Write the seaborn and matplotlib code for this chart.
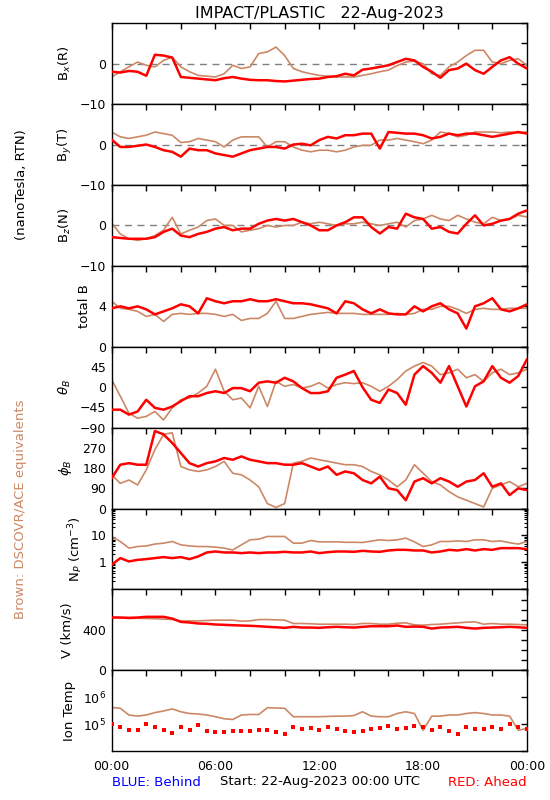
import numpy as np
import seaborn as sns
import matplotlib.pyplot as plt
from matplotlib.ticker import FixedLocator, FixedFormatter, LogLocator, NullLocator, NullFormatter

# time axis (hours after 22-Aug-2023 00:00 UTC), 30 min steps
hours = np.arange(0, 24.5, 0.5)

# magnetic field components (nT, RTN) - red: STEREO-A, brown: DSCOVR/ACE
bx_red = [-2.0, -2.2, -1.8, -2.0, -3.0, 2.2, 2.0, 1.5, -3.3, -3.5,
          -3.7, -3.9, -4.1, -3.6, -3.3, -3.7, -4.0, -4.1, -4.1, -4.3,
          -4.4, -4.2, -4.0, -3.8, -3.7, -3.3, -3.1, -2.5, -2.9, -1.5,
          -1.2, -0.8, -0.4, 0.4, 1.2, 0.8, -0.8, -2.0, -3.5, -1.6,
          -1.2, 0.0, -1.6, -2.5, -0.8, 0.8, 1.6, 0.0, -1.2]
bx_brown = [-3.3, -2.0, -0.8, 0.4, -0.4, -0.8, 0.8, 1.6, -0.8, -2.0,
            -2.9, -3.1, -3.3, -2.5, -0.4, -1.2, -0.8, 2.5, 2.9, 4.1,
            2.0, -1.2, -2.0, -2.5, -2.9, -3.1, -3.3, -3.3, -3.3, -2.9,
            -2.5, -2.0, -1.6, -0.5, 0.4, 0.6, 0.0, -2.5, -2.9, -0.8,
            0.4, 2.0, 3.3, 3.3, 0.4, 0.0, 0.8, 1.2, -0.4]

by_red = [1.2, -0.6, -0.6, -0.3, 0.0, -0.6, -1.4, -1.8, -3.0, -1.0,
          -1.4, -1.4, -2.2, -2.6, -3.0, -2.2, -1.4, -1.0, -0.6, -0.6,
          -1.0, 0.0, 0.2, -0.2, 1.1, 1.9, 1.5, 2.3, 2.3, 2.7,
          2.7, -1.0, 3.1, 2.9, 2.7, 2.7, 2.3, 1.5, 1.9, 2.7,
          2.3, 2.7, 2.7, 2.3, 1.9, 2.3, 2.7, 3.1, 2.7]
by_brown = [3.1, 1.9, 1.5, 1.9, 2.3, 3.1, 2.7, 2.3, 0.5, 0.7,
            1.5, 1.1, 0.7, -0.6, 1.1, 1.9, 1.9, 1.9, -0.6, 0.7,
            0.7, -0.6, -1.4, -1.8, -1.4, -1.4, -1.8, -1.4, -0.6, -0.2,
            -0.2, 1.1, 1.1, 1.5, 1.1, 0.7, 0.2, 1.1, 3.1, 2.7,
            1.9, 2.3, 3.1, 3.1, 3.1, 2.9, 3.1, 2.9, 3.1]

bz_red = [-2.9, -3.1, -3.3, -3.3, -3.3, -2.9, -1.6, -0.8, -2.5, -2.9,
          -2.1, -1.6, -0.8, -0.4, -1.2, -0.8, -0.8, 0.4, 1.2, 1.6,
          1.2, 1.6, 0.8, 0.0, -1.2, -1.2, 0.0, 0.8, 2.0, 2.0,
          -0.4, -2.0, -0.4, -0.8, 2.9, 2.0, 1.6, -0.8, -0.4, -1.6,
          -2.0, 0.4, 2.5, 0.0, 0.4, 1.2, 1.6, 2.9, 3.7]
bz_brown = [0.6, -2.1, -3.3, -3.7, -3.3, -2.5, -1.2, 2.0, -2.1, -1.2,
            -0.4, 1.2, 1.6, 0.0, 0.0, -1.6, -1.2, -0.8, 0.0, -0.4,
            0.0, 0.0, 0.8, 0.4, 0.8, 0.4, 0.0, 0.4, 0.4, 0.8,
            0.4, 0.0, 0.4, 0.8, -0.4, 1.2, 1.6, 2.5, 1.6, 1.2,
            2.5, 1.6, 0.8, 0.4, 2.0, 1.2, 1.6, 2.5, 2.1]

btot_red = [3.8, 4.0, 3.8, 4.0, 3.7, 3.2, 3.5, 3.8, 4.2, 4.0,
            3.3, 4.8, 4.5, 4.3, 4.5, 4.5, 4.7, 4.5, 4.5, 4.7,
            4.5, 4.3, 4.3, 4.2, 4.0, 3.8, 3.3, 4.5, 4.3, 3.7,
            3.3, 3.7, 3.3, 3.2, 3.2, 4.0, 3.5, 4.0, 4.3, 3.7,
            3.3, 1.8, 4.0, 4.3, 4.8, 3.7, 3.5, 3.8, 4.2]
btot_brown = [4.5, 3.8, 3.7, 3.5, 3.0, 3.2, 2.5, 3.2, 3.3, 3.2,
              3.3, 3.3, 3.2, 3.0, 3.2, 2.6, 2.8, 2.8, 3.3, 4.5,
              2.8, 2.8, 3.0, 3.2, 3.3, 3.4, 3.3, 3.3, 3.3, 3.2,
              3.2, 3.2, 3.2, 3.3, 3.2, 3.3, 3.7, 3.7, 4.0, 4.0,
              3.7, 3.3, 3.7, 3.8, 3.7, 3.7, 3.8, 3.8, 3.8]

# field angles (degrees)
theta_red = [-50, -50, -61, -54, -28, -46, -50, -43, -31, -20,
             -20, -13, -9, -13, -2, -2, -9, 10, 13, 10,
             21, 13, -2, -13, -13, -9, 21, 28, 36, 0,
             -28, -35, -5, -13, -39, 28, 47, 32, 10, 47,
             2, -43, 2, 13, 47, 21, 10, 25, 62]
theta_brown = [17, -20, -58, -69, -65, -54, -73, -46, -28, -24,
               -13, 2, 40, -9, -28, -24, -46, 2, -43, 13,
               2, 6, -2, 2, 10, -2, 6, 10, 8, 10,
               2, -9, 2, 17, 36, 47, 55, 47, 28, 32,
               40, 21, 28, 13, 32, 40, 28, 32, 40]

phi_red = [135, 195, 202, 195, 195, 345, 330, 292, 247, 202,
           187, 202, 210, 225, 217, 232, 217, 210, 202, 202,
           195, 195, 202, 187, 172, 187, 150, 165, 157, 127,
           112, 142, 90, 82, 37, 120, 135, 112, 135, 120,
           97, 120, 127, 157, 97, 112, 60, 90, 82]
phi_brown = [150, 112, 127, 105, 172, 262, 330, 337, 187, 172,
             165, 172, 187, 210, 157, 150, 127, 97, 22, 5,
             22, 202, 210, 225, 217, 210, 202, 195, 195, 187,
             165, 150, 127, 97, 127, 195, 157, 120, 105, 75,
             52, 37, 22, 7, 90, 105, 120, 97, 112]

# plasma: proton density (cm^-3), speed (km/s), ion temperature (K)
np_red = [0.82, 1.45, 1.09, 1.25, 1.33, 1.45, 1.58, 1.45, 1.58, 1.33,
          1.67, 2.35, 2.55, 2.35, 2.35, 2.22, 2.35, 2.22, 2.35, 2.35,
          2.48, 2.35, 2.35, 2.55, 2.22, 2.41, 2.55, 2.55, 2.48, 2.7,
          2.55, 2.48, 2.78, 2.94, 2.94, 2.78, 2.78, 2.35, 2.55, 2.94,
          2.78, 3.12, 2.78, 3.12, 2.94, 3.4, 3.4, 3.4, 3.12]
np_brown = [9.2, 6.0, 3.4, 3.9, 4.1, 4.8, 5.2, 6.0, 4.5, 4.1,
            3.9, 3.9, 3.7, 3.4, 2.9, 4.5, 6.9, 7.3, 9.2, 9.2,
            9.2, 5.2, 5.2, 6.5, 5.8, 5.8, 5.8, 5.6, 5.6, 5.5,
            6.2, 6.9, 6.5, 6.9, 8.0, 5.8, 3.9, 4.5, 6.0, 6.0,
            6.3, 6.0, 6.9, 6.9, 6.0, 6.3, 5.4, 4.8, 6.0]

v_red = [522, 522, 519, 522, 529, 529, 529, 512, 479, 473,
         463, 460, 453, 450, 446, 443, 440, 436, 430, 426,
         420, 430, 423, 423, 420, 426, 430, 426, 423, 430,
         436, 436, 436, 443, 430, 433, 430, 413, 423, 426,
         430, 420, 413, 420, 423, 426, 430, 426, 420]
v_brown = [529, 520, 512, 515, 512, 510, 506, 503, 486, 489,
           489, 493, 496, 496, 496, 486, 489, 502, 502, 499,
           496, 463, 463, 460, 456, 456, 456, 456, 453, 463,
           463, 456, 456, 466, 469, 450, 446, 453, 456, 463,
           469, 476, 479, 456, 463, 456, 456, 453, 450]

tion_red = [1.06e5, 7.9e4, 6.0e4, 6.0e4, 1.06e5, 7.9e4, 6.0e4, 4.9e4, 7.9e4, 6.0e4,
            9.2e4, 5.6e4, 5.2e4, 5.2e4, 5.6e4, 5.6e4, 5.6e4, 6.0e4, 6.0e4, 5.2e4,
            4.5e4, 7.9e4, 6.9e4, 7.2e4, 6.0e4, 7.9e4, 6.9e4, 5.6e4, 5.2e4, 5.6e4,
            6.9e4, 7.5e4, 8.5e4, 6.9e4, 7.5e4, 8.5e4, 7.9e4, 6.0e4, 7.9e4, 5.6e4,
            4.2e4, 7.9e4, 6.9e4, 6.9e4, 7.9e4, 6.9e4, 1.06e5, 7.9e4, 6.9e4]
tion_brown = [4.2e5, 3.9e5, 2.2e5, 2.0e5, 2.2e5, 2.7e5, 3.1e5, 3.7e5, 2.9e5, 2.5e5,
              2.4e5, 2.2e5, 1.9e5, 1.6e5, 1.5e5, 2.2e5, 2.3e5, 2.3e5, 4.1e5, 4.0e5,
              3.9e5, 1.9e5, 1.9e5, 1.9e5, 1.9e5, 1.95e5, 2.0e5, 2.0e5, 2.1e5, 2.9e5,
              2.0e5, 1.9e5, 1.9e5, 2.5e5, 2.9e5, 2.5e5, 6.0e4, 2.0e5, 2.0e5, 2.2e5,
              2.2e5, 2.5e5, 2.7e5, 2.5e5, 2.2e5, 2.2e5, 2.0e5, 6.0e4, 6.9e4]

RED = "#ff0000"
BROWN = "#cc8866"
M = "\u2212"

sns.set_theme(style="white")
plt.rcParams["font.family"] = ["DejaVu Sans"]
plt.rcParams["mathtext.fontset"] = "dejavusans"
plt.rcParams["text.color"] = "black"
plt.rcParams["xtick.color"] = "black"
plt.rcParams["ytick.color"] = "black"
plt.rcParams["axes.labelcolor"] = "black"

fig, axes = plt.subplots(9, 1, figsize=(5.5, 8), dpi=100, sharex=True)
fig.subplots_adjust(left=0.203, right=0.958, top=0.971, bottom=0.061, hspace=0)

# (brown, red, ylabel, label x pixel, ylim, ticks, ticklabels, log, zero line)
panels = [
    (bx_brown, bx_red, "B$_x$(R)", 65, (-10, 10), [-10, -5, 0, 5, 10], [M + "10", "", "0", "", ""], False, True),
    (by_brown, by_red, "B$_y$(T)", 65, (-10, 10), [-10, -5, 0, 5, 10], [M + "10", "", "0", "", ""], False, True),
    (bz_brown, bz_red, "B$_z$(N)", 65, (-10, 10), [-10, -5, 0, 5, 10], [M + "10", "", "0", "", ""], False, True),
    (btot_brown, btot_red, "total B", 85, (0, 8), [0, 2, 4, 6, 8], ["0", "", "4", "", ""], False, False),
    (theta_brown, theta_red, r"$\theta_B$", 65, (-90, 90), [-90, -45, 0, 45, 90],
     [M + "90", M + "45", "0", "45", ""], False, False),
    (phi_brown, phi_red, r"$\phi_B$", 65, (0, 360), [0, 90, 180, 270, 360], ["0", "90", "180", "270", ""], False, False),
    (np_brown, np_red, "N$_P$ (cm$^{-3}$)", 76, (0.1, 100), [0.1, 1, 10, 100], ["", "1", "10", ""], True, False),
    (v_brown, v_red, "V (km/s)", 67, (0, 800), [0, 100, 200, 300, 400, 500, 600, 700, 800],
     ["0", "", "", "", "400", "", "", "", ""], False, False),
    (tion_brown, tion_red, "Ion Temp", 70, (1e4, 1e7), [1e4, 1e5, 1e6, 1e7], ["", "10$^5$", "10$^6$", ""], True, False),
]

xticks = list(range(0, 25, 2))
xlabels = ["%02d:00" % (h % 24) if h % 6 == 0 else "" for h in xticks]

for i, (ax, (brown, red, label, lx, ylim, ticks, tlabels, logy, zero)) in enumerate(zip(axes, panels)):
    if zero:
        ax.axhline(0, color="#808080", lw=1, ls=(0, (5, 4)), zorder=1)
    sns.lineplot(x=hours, y=brown, ax=ax, color=BROWN, linewidth=1.2, estimator=None, sort=False, zorder=2)
    if i == 8:
        sns.scatterplot(x=hours, y=red, ax=ax, color=RED, marker="s", s=5, linewidth=0, zorder=3)
    else:
        sns.lineplot(x=hours, y=red, ax=ax, color=RED, linewidth=1.8, estimator=None, sort=False, zorder=3)
    if logy:
        ax.set_yscale("log")
    ax.set_ylim(*ylim)
    ax.set_xlim(0, 24)
    ax.yaxis.set_major_locator(FixedLocator(ticks))
    ax.yaxis.set_major_formatter(FixedFormatter(tlabels))
    if i == 6:
        ax.yaxis.set_minor_locator(LogLocator(base=10, subs=range(2, 10)))
        ax.yaxis.set_minor_formatter(NullFormatter())
    else:
        ax.yaxis.set_minor_locator(NullLocator())
    ax.xaxis.set_major_locator(FixedLocator(xticks))
    ax.xaxis.set_major_formatter(FixedFormatter(xlabels))
    ax.tick_params(axis="both", which="major", direction="in", top=True, right=True,
                   length=4, width=1, color="black", labelsize=9, labelcolor="black", pad=4)
    ax.tick_params(axis="both", which="minor", direction="in", left=True, right=True,
                   length=2, width=0.8, color="black")
    ax.tick_params(axis="x", pad=6)
    for s in ax.spines.values():
        s.set_color("black")
        s.set_linewidth(1)
    ax.set_ylabel("")
    ax.set_xlabel("")
    pos = ax.get_position()
    fig.text(lx / 550, (pos.y0 + pos.y1) / 2, label, rotation=90, ha="center", va="center",
             fontsize=9.5, color="black")

fig.text(0.58, 1 - 13.5 / 800, "IMPACT/PLASTIC   22-Aug-2023", ha="center", va="center",
         fontsize=11.5, color="black")
fig.text(22 / 550, 1 - 185 / 800, "(nanoTesla, RTN)", rotation=90, ha="center", va="center",
         fontsize=9.5, color="black")
fig.text(20.5 / 550, 1 - 509 / 800, "Brown: DSCOVR/ACE equivalents", rotation=90, ha="center", va="center",
         fontsize=9.5, color=BROWN)
fig.text(112 / 550, 1 - 782 / 800, "BLUE: Behind", ha="left", va="center", fontsize=9.5, color="blue")
fig.text(320 / 550, 1 - 782 / 800, "Start: 22-Aug-2023 00:00 UTC", ha="center", va="center",
         fontsize=9.5, color="black")
fig.text(527 / 550, 1 - 782 / 800, "RED: Ahead", ha="right", va="center", fontsize=9.5, color=RED)

fig.savefig("out.png", dpi=100, facecolor="white")
